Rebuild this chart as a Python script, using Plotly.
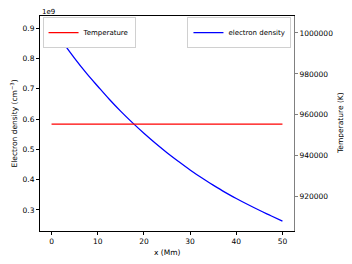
import plotly.graph_objects as go

x_mm = [0, 2.5, 5, 7.5, 10, 12.5, 15, 17.5, 20, 22.5, 25, 27.5, 30, 32.5, 35, 37.5, 40, 42.5, 45, 47.5, 50]
density = [0.907, 0.852, 0.800, 0.752, 0.708, 0.665, 0.625, 0.588, 0.553, 0.520, 0.489, 0.460, 0.432, 0.406, 0.382, 0.359, 0.338, 0.318, 0.299, 0.281, 0.263]
temp_x = [0, 50]
temperature = [955500, 955500]

font = dict(family="DejaVu Sans", size=7.5, color="black")
lfont = dict(family="DejaVu Sans", size=7, color="black")

fig = go.Figure()
fig.add_trace(go.Scatter(x=temp_x, y=temperature, mode="lines", name="Temperature", showlegend=True,
                         line=dict(color="red", width=1.3), yaxis="y2", legend="legend"))
fig.add_trace(go.Scatter(x=x_mm, y=density, mode="lines", name="electron density", showlegend=True,
                         line=dict(color="blue", width=1.3, shape="spline"), yaxis="y", legend="legend2"))

# page body adds an 8px offset; size/margins compensate so the plot lands where the reference has it
fig.update_layout(
    width=344, height=256,
    margin=dict(l=32, r=58, t=8, b=33, autoexpand=False),
    paper_bgcolor="white", plot_bgcolor="white",
    font=font,
    showlegend=True,
    xaxis=dict(range=[-2.5, 52.5], tickvals=[0, 10, 20, 30, 40, 50], showgrid=False, zeroline=False,
               showline=True, linecolor="black", linewidth=1, mirror=True, automargin=False,
               ticks="outside", ticklen=3, tickcolor="black"),
    yaxis=dict(range=[0.2307, 0.9396], tickvals=[0.3, 0.4, 0.5, 0.6, 0.7, 0.8, 0.9],
               ticktext=["0.3", "0.4", "0.5", "0.6", "0.7", "0.8", "0.9"], automargin=False,
               showgrid=False, zeroline=False, showline=True, linecolor="black", linewidth=1,
               ticks="outside", ticklen=3, tickcolor="black"),
    yaxis2=dict(range=[903230, 1008300], overlaying="y", side="right", automargin=False,
                tickvals=[920000, 940000, 960000, 980000, 1000000],
                ticktext=["920000", "940000", "960000", "980000", "1000000"],
                showgrid=False, zeroline=False, showline=True, linecolor="#808080", linewidth=1,
                ticks="outside", ticklen=3, tickcolor="#808080"),
    legend=dict(x=0.01, y=0.995, xanchor="left", yanchor="top", bgcolor="white",
                bordercolor="#d0d0d0", borderwidth=1, font=lfont, itemwidth=30),
    legend2=dict(x=0.99, y=0.995, xanchor="right", yanchor="top", bgcolor="white",
                 bordercolor="#d0d0d0", borderwidth=1, font=lfont, itemwidth=30, visible=True),
    annotations=[
        dict(text="1e9", xref="paper", yref="paper", x=0, y=1.0, xanchor="left",
             yanchor="bottom", showarrow=False, font=lfont, yshift=-2),
        dict(text="x (Mm)", xref="paper", yref="paper", x=0.5, y=0, xanchor="center",
             yanchor="top", showarrow=False, font=font, yshift=-15),
        dict(text="Electron density (cm<sup>−3</sup>)", xref="paper", yref="paper", x=0, y=0.5,
             xanchor="right", yanchor="middle", showarrow=False, font=font, textangle=-90, xshift=-20),
        dict(text="Temperature (K)", xref="paper", yref="paper", x=1, y=0.5,
             xanchor="left", yanchor="middle", showarrow=False, font=font, textangle=-90, xshift=40),
    ],
)

fig.write_html("out.html")
